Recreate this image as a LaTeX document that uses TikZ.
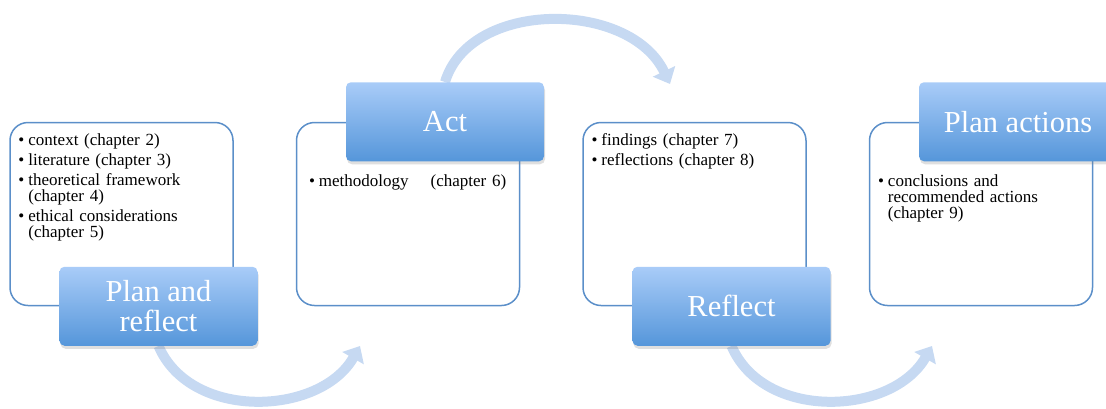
\documentclass[tikz,border=0pt]{standalone}
\usepackage{fontspec}
\setmainfont{Liberation Serif}
\usepackage{enumitem}
\usetikzlibrary{positioning, shadows, arrows.meta, backgrounds}
\definecolor{boxline}{HTML}{5B8FC9}
\definecolor{titletop}{HTML}{A9CCF8}
\definecolor{titlebot}{HTML}{5596DA}
\definecolor{swingfill}{HTML}{C6D9F2}
\setlist[itemize]{leftmargin=11pt, labelsep=4pt, itemsep=4pt,
  topsep=0pt, parsep=0pt, partopsep=0pt}
\tikzset{%
  x=1pt, y=-1pt,
  node distance=62pt,
  stagebox/.style={
    draw=boxline, line width=1.5pt, fill=white,
    rounded corners=18pt,
    minimum width=223pt, minimum height=183pt},
  stagetitle/.style={
    rounded corners=5pt,
    top color=titletop, bottom color=titlebot,
    minimum width=198pt, minimum height=79pt,
    text=white, align=center,
    font=\fontsize{30.5}{30}\selectfont,
    drop shadow={opacity=0.25, shadow xshift=1pt, shadow yshift=-3pt}},
  stagelist/.style={
    inner sep=0pt, text width=205pt,
    font=\fontsize{17}{16}\selectfont},
  swing/.style={
    draw=swingfill, line width=10pt,
    -{Triangle[length=14pt, width=24pt]}}
}

\begin{document}
\begin{tikzpicture}
    \clip (0,0) rectangle (1106,408);

    % the four stages
    \node[stagebox] (box1) at (121.5,214) {};
    \node[stagebox, right=of box1] (box2) {};
    \node[stagebox, right=of box2] (box3) {};
    \node[stagebox, right=of box3] (box4) {};

    \node[stagetitle, xshift=37pt] (t1) at (box1.south) {Plan and\\reflect};
    \node[stagetitle, xshift=37pt] (t2) at (box2.north) {Act};
    \node[stagetitle, xshift=37pt] (t3) at (box3.south) {Reflect};
    \node[stagetitle, xshift=37pt] (t4) at (box4.north) {Plan actions};

    % contents
    \node[stagelist, below right=8pt and 8pt of box1.north west] (l1) {%
      \begin{itemize}
        \item context (chapter 2)
        \item literature (chapter 3)
        \item theoretical framework\\(chapter 4)
        \item ethical considerations\\(chapter 5)
      \end{itemize}};
    \node[stagelist, below right=49pt and 12pt of box2.north west] (l2) {%
      \begin{itemize}
        \item methodology\hspace{22pt}(chapter 6)
      \end{itemize}};
    \node[stagelist, below right=8pt and 8pt of box3.north west] (l3) {%
      \begin{itemize}
        \item findings (chapter 7)
        \item reflections (chapter 8)
      \end{itemize}};
    \node[stagelist, below right=49pt and 8pt of box4.north west] (l4) {%
      \begin{itemize}
        \item conclusions and\\recommended actions\\(chapter 9)
      \end{itemize}};

    % arrows between the stages
    \coordinate (e1) at (360,346);
    \coordinate (e2) at (670,84);
    \coordinate (e3) at (932,346);
    \begin{pgfonlayer}{background}
      \draw[swing] (t1.south) .. controls +(32,75) and +(-40,70) .. (e1);
      \draw[swing] (t2.north) .. controls +(25,-83) and +(-40,-84) .. (e2);
      \draw[swing] (t3.south) .. controls +(32,75) and +(-40,70) .. (e3);
    \end{pgfonlayer}

\end{tikzpicture}
\end{document}
